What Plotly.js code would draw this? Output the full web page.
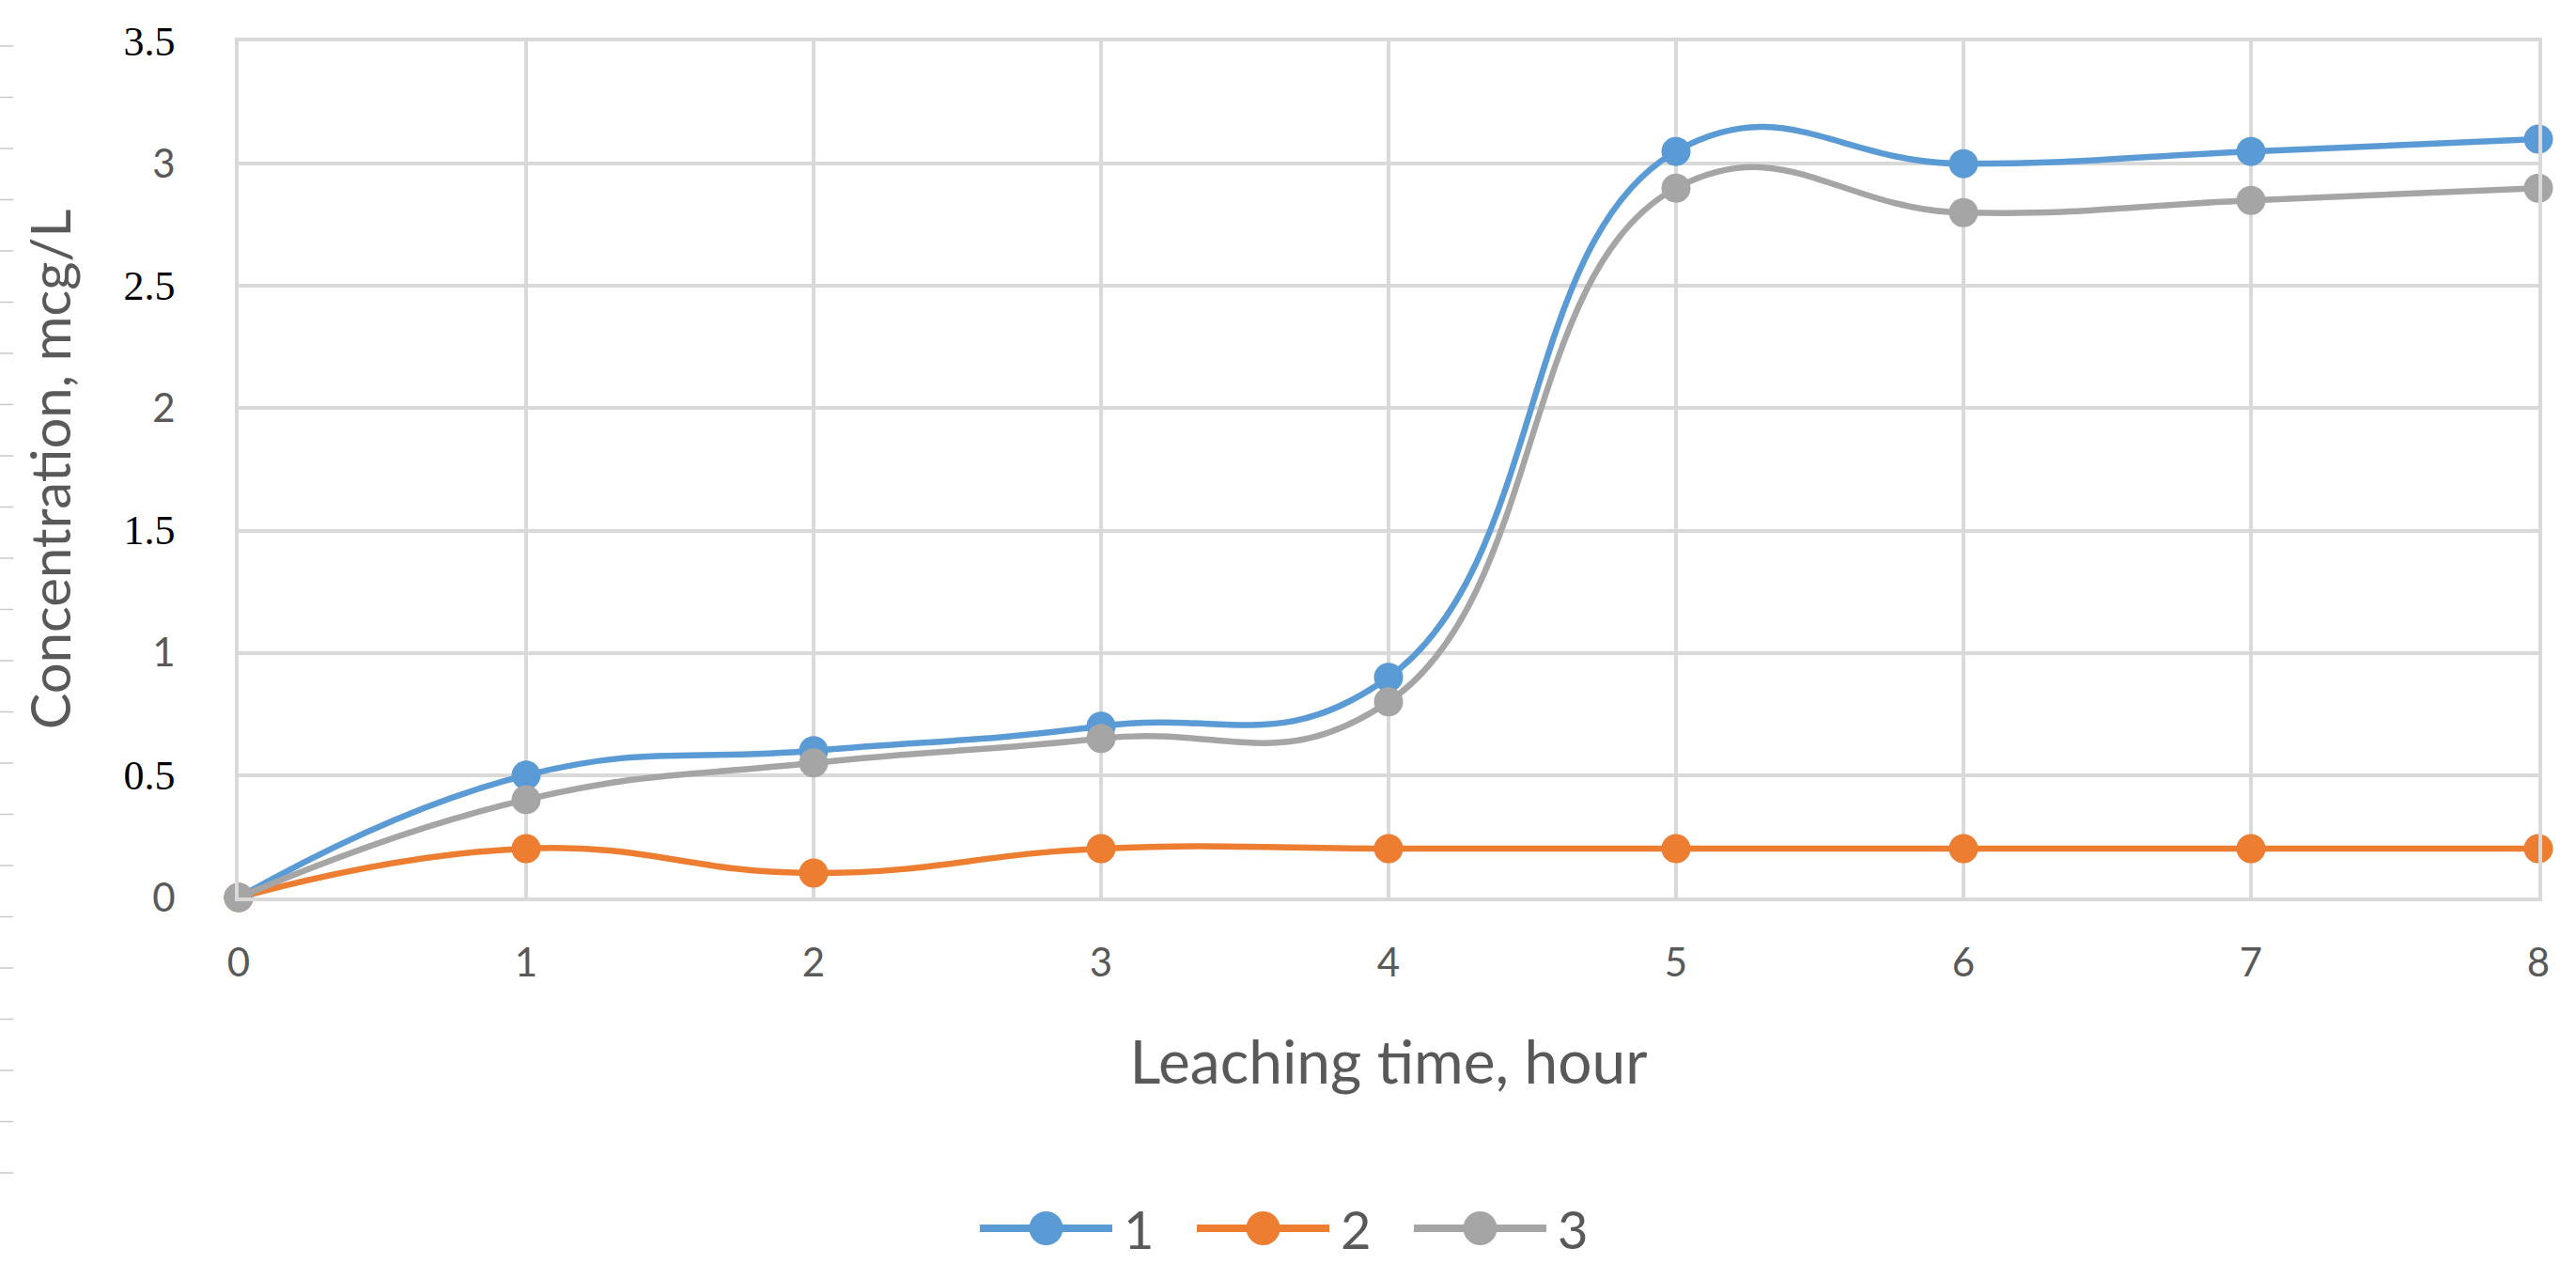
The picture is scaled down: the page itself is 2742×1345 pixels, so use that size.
<!DOCTYPE html>
<html>
<head>
<meta charset="utf-8">
<script src="https://cdn.plot.ly/plotly-3.0.1.min.js"></script>
<style>html,body{margin:0;padding:0;background:#fff;}#chart{width:2742px;height:1345px;}</style>
</head>
<body>
<div id="chart"></div>
<script>
const hours = [0, 1, 2, 3, 4, 5, 6, 7, 8];
const series1 = [0, 0.5, 0.6, 0.7, 0.9, 3.05, 3.0, 3.05, 3.1];
const series2 = [0, 0.2, 0.1, 0.2, 0.2, 0.2, 0.2, 0.2, 0.2];
const series3 = [0, 0.4, 0.55, 0.65, 0.8, 2.9, 2.8, 2.85, 2.9];
const seriesNames = ['1', '2', '3'];
const seriesColors = ['#5b9bd5', '#ed7d31', '#a5a5a5'];
const yTickVals = [0, 0.5, 1, 1.5, 2, 2.5, 3, 3.5];
const yTickLabels = ['0', '0.5', '1', '1.5', '2', '2.5', '3', '3.5'];
const xTickLabels = ['0', '1', '2', '3', '4', '5', '6', '7', '8'];

// plot-area geometry in page pixels
const ML = 254, MR = 40, MT = 44, MB = 390, W = 2742, H = 1345;
const PW = W - ML - MR, PH = H - MT - MB;
const px2x = p => (p - ML) / PW;
const px2y = p => (H - MB - p) / PH;

const serifStyle = 'font-family:Liberation Serif;color:#000000;font-size:44px';
const yTickText = yTickLabels.map(t => t.indexOf('.') >= 0 ? '<span style="' + serifStyle + '">' + t + '</span>' : t);

const allSeries = [series1, series2, series3];
const traces = allSeries.map((ys, i) => ({
  x: hours, y: ys, name: seriesNames[i], type: 'scatter', mode: 'lines+markers',
  line: {color: seriesColors[i], width: 6.5, shape: 'spline', smoothing: 1.3},
  marker: {color: seriesColors[i], size: 31, symbol: 'circle'},
  cliponaxis: false, showlegend: false
}));

const shapes = [];
const annotations = [];
// faint scan ruler ticks along the left edge
for (let k = 0; k < 23; k++) {
  const py = 49 + k * 54.5;
  shapes.push({type: 'line', xref: 'paper', yref: 'paper',
    x0: px2x(0), x1: px2x(14), y0: px2y(py), y1: px2y(py),
    line: {color: '#c8c8c8', width: 1.5}});
}
// legend (Excel style: long line with centred marker)
const legY = 1307, legStart = 1043, legPitch = 231, legLine = 141;
seriesNames.forEach((nm, i) => {
  const x0 = legStart + i * legPitch;
  shapes.push({type: 'line', xref: 'paper', yref: 'paper',
    x0: px2x(x0), x1: px2x(x0 + legLine), y0: px2y(legY), y1: px2y(legY),
    line: {color: seriesColors[i], width: 8}});
  shapes.push({type: 'circle', xref: 'paper', yref: 'paper', xsizemode: 'pixel', ysizemode: 'pixel',
    xanchor: px2x(x0 + legLine / 2), yanchor: px2y(legY), x0: -18, x1: 18, y0: -18, y1: 18,
    fillcolor: seriesColors[i], line: {width: 0}});
  annotations.push({xref: 'paper', yref: 'paper', x: px2x(x0 + legLine + 10), y: px2y(legY),
    xanchor: 'left', yanchor: 'middle', showarrow: false, text: nm,
    font: {family: 'Lato, sans-serif', size: 56, color: '#595959'}});
});

const layout = {
  width: W, height: H,
  margin: {l: ML, r: MR, t: MT, b: MB},
  paper_bgcolor: '#ffffff', plot_bgcolor: '#ffffff',
  font: {family: 'Lato, sans-serif', color: '#595959'},
  showlegend: false,
  xaxis: {
    range: [0, 8], tickvals: hours, ticktext: xTickLabels, ticks: '',
    showgrid: true, gridcolor: '#d9d9d9', gridwidth: 4, zeroline: false,
    showline: true, linecolor: '#d9d9d9', linewidth: 4, mirror: true,
    tickfont: {size: 42, color: '#595959', family: 'Lato, sans-serif'},
    ticklabelstandoff: 30,
    title: {text: 'Leaching time, hour', font: {size: 64, color: '#595959', family: 'Lato, sans-serif'}, standoff: 62}
  },
  yaxis: {
    range: [0, 3.5], tickvals: yTickVals, ticktext: yTickText, ticks: '',
    showgrid: true, gridcolor: '#d9d9d9', gridwidth: 4, zeroline: false,
    showline: true, linecolor: '#d9d9d9', linewidth: 4, mirror: true,
    tickfont: {size: 42, color: '#595959', family: 'Lato, sans-serif'},
    ticklabelstandoff: 55,
    title: {text: 'Concentration, mcg/L', font: {size: 58, color: '#595959', family: 'Lato, sans-serif'}, standoff: 38}
  },
  shapes: shapes,
  annotations: annotations
};

Plotly.newPlot('chart', traces, layout, {displayModeBar: false, staticPlot: true});
</script>
</body>
</html>
